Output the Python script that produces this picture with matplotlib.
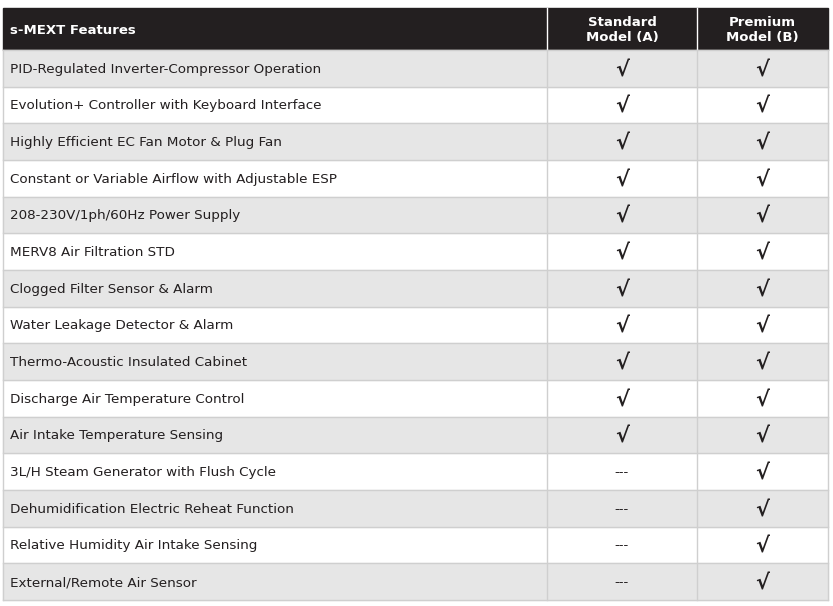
import matplotlib
matplotlib.use('Agg')
import matplotlib.pyplot as plt
from matplotlib.patches import Rectangle

header = ['s-MEXT Features', 'Standard\nModel (A)', 'Premium\nModel (B)']
features = [
    'PID-Regulated Inverter-Compressor Operation',
    'Evolution+ Controller with Keyboard Interface',
    'Highly Efficient EC Fan Motor & Plug Fan',
    'Constant or Variable Airflow with Adjustable ESP',
    '208-230V/1ph/60Hz Power Supply',
    'MERV8 Air Filtration STD',
    'Clogged Filter Sensor & Alarm',
    'Water Leakage Detector & Alarm',
    'Thermo-Acoustic Insulated Cabinet',
    'Discharge Air Temperature Control',
    'Air Intake Temperature Sensing',
    '3L/H Steam Generator with Flush Cycle',
    'Dehumidification Electric Reheat Function',
    'Relative Humidity Air Intake Sensing',
    'External/Remote Air Sensor',
]
standard = [True] * 11 + [False] * 4
premium = [True] * 15

W, H = 833, 606
col_x = [3, 547, 697, 828]
top, head_bot, bottom = 8, 50, 600
row_h = (bottom - head_bot) / len(features)

fig = plt.figure(figsize=(W / 100, H / 100), dpi=100)
ax = fig.add_axes([0, 0, 1, 1])
ax.set_xlim(0, W)
ax.set_ylim(H, 0)
ax.axis('off')

font = 'DejaVu Sans'
ax.add_patch(Rectangle((col_x[0], top), col_x[-1] - col_x[0], head_bot - top, color='#231f20'))
for i in (1, 2):
    ax.plot([col_x[i]] * 2, [top, head_bot], color='white', lw=1)
ax.text(col_x[0] + 7, (top + head_bot) / 2 + 1, header[0], color='white', fontsize=9.5,
        fontweight='bold', va='center', family=font)
for i in (1, 2):
    ax.text((col_x[i] + col_x[i + 1]) / 2, (top + head_bot) / 2 + 1, header[i], color='white',
            fontsize=9.5, fontweight='bold', ha='center', va='center', family=font, linespacing=1.15)

for r, name in enumerate(features):
    y0 = head_bot + r * row_h
    if r % 2 == 0:
        ax.add_patch(Rectangle((col_x[0], y0), col_x[-1] - col_x[0], row_h, color='#e6e6e6'))
    yc = y0 + row_h / 2 + 1
    ax.text(col_x[0] + 7, yc, name, fontsize=9.7, va='center', color='#231f20', family=font)
    for c, val in ((1, standard[r]), (2, premium[r])):
        xc = (col_x[c] + col_x[c + 1]) / 2
        if val:
            ax.text(xc, yc + 1, '√', fontsize=15, fontweight='bold', ha='center', va='center',
                    color='#231f20', family='DejaVu Sans')
        else:
            ax.text(xc, yc, '---', fontsize=9.5, ha='center', va='center', color='#231f20', family=font)

line_c = '#cfcfcf'
for r in range(len(features) + 1):
    y = head_bot + r * row_h
    ax.plot([col_x[0], col_x[-1]], [y, y], color=line_c, lw=1)
for x in col_x:
    ax.plot([x, x], [head_bot, bottom], color=line_c, lw=1)

fig.savefig('out.png', dpi=100, facecolor='white')
